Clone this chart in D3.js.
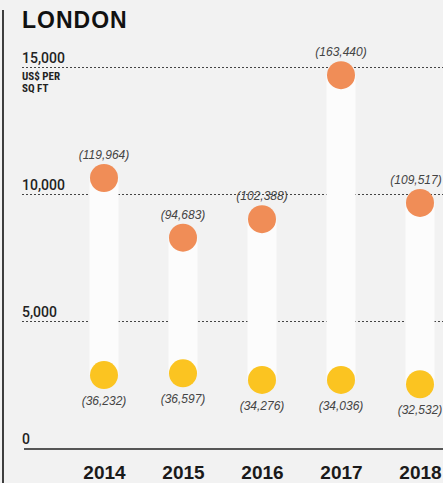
<!DOCTYPE html>
<html>
<head>
<meta charset="utf-8">
<script src="https://cdn.jsdelivr.net/npm/d3@7"></script>
<style>
  body { margin: 0; background: #f2f2f2; }
  svg { display: block; font-family: "Liberation Sans", Arial, sans-serif; }
</style>
</head>
<body>
<script>
const width = 443;
const height = 483;

// data
const years = ['2014', '2015', '2016', '2017', '2018'];
const highPrice = [10630, 8280, 9010, 14680, 9650];
const lowPrice = [2870, 2940, 2680, 2680, 2510];
const highLabels = ['(119,964)', '(94,683)', '(102,388)', '(163,440)', '(109,517)'];
const lowLabels = ['(36,232)', '(36,597)', '(34,276)', '(34,036)', '(32,532)'];
const yTicks = [5000, 10000, 15000];

const data = years.map((yr, i) => ({
    year: yr,
    high: highPrice[i],
    low: lowPrice[i],
    hiLabel: highLabels[i],
    loLabel: lowLabels[i]
}));

const svg = d3.select('body')
    .append('svg')
    .attr('width', width)
    .attr('height', height);

const x = d3.scalePoint()
    .domain(years)
    .range([104, 420]);

const y = d3.scaleLinear()
    .domain([0, 15000])
    .range([448, 67]);

// left rule
svg.append('line')
    .attr('x1', 3).attr('x2', 3)
    .attr('y1', 10).attr('y2', height)
    .attr('stroke', '#111')
    .attr('stroke-width', 1.6);

svg.append('text')
    .attr('x', 22)
    .attr('y', 28)
    .attr('font-size', 23)
    .attr('font-weight', 'bold')
    .attr('letter-spacing', 1)
    .attr('fill', '#111')
    .text('LONDON');

// dashed grid
svg.selectAll('.grid')
    .data(yTicks)
    .enter()
    .append('line')
    .attr('class', 'grid')
    .attr('x1', 22)
    .attr('x2', width)
    .attr('y1', d => Math.round(y(d)) + 0.5)
    .attr('y2', d => Math.round(y(d)) + 0.5)
    .attr('stroke', '#444')
    .attr('stroke-width', 1)
    .attr('stroke-dasharray', '2,2');

svg.selectAll('.tick-label')
    .data(yTicks)
    .enter()
    .append('text')
    .attr('class', 'tick-label')
    .attr('x', 22)
    .attr('y', d => y(d) - 4)
    .attr('font-family', 'Roboto, Arial, sans-serif')
    .attr('font-weight', 500)
    .attr('font-size', 14)
    .attr('fill', '#222')
    .text(d => d3.format(',')(d));

svg.append('text')
    .attr('x', 22)
    .attr('y', 444)
    .attr('font-family', 'Roboto, Arial, sans-serif')
    .attr('font-weight', 500)
    .attr('font-size', 14)
    .attr('fill', '#222')
    .text('0');

const unit = svg.append('text')
    .attr('font-family', '"Liberation Sans Narrow", "Roboto Condensed", Arial, sans-serif')
    .attr('font-size', 11)
    .attr('font-weight', 'bold')
    .attr('fill', '#222');
unit.append('tspan').attr('x', 22).attr('y', 80).text('US$ PER');
unit.append('tspan').attr('x', 22).attr('y', 92).text('SQ FT');

// baseline
svg.append('line')
    .attr('x1', 24).attr('x2', width)
    .attr('y1', 449).attr('y2', 449)
    .attr('stroke', '#222')
    .attr('stroke-width', 1.5);

const barW = 29;

svg.selectAll('.bar')
    .data(data)
    .enter()
    .append('rect')
    .attr('class', 'bar')
    .attr('x', d => x(d.year) - barW / 2)
    .attr('y', d => y(d.high))
    .attr('width', barW)
    .attr('height', d => y(d.low) - y(d.high))
    .attr('fill', '#fcfcfc');

svg.selectAll('.hi')
    .data(data)
    .enter()
    .append('circle')
    .attr('class', 'hi')
    .attr('cx', d => x(d.year))
    .attr('cy', d => y(d.high))
    .attr('r', 14)
    .attr('fill', '#f08d57');

svg.selectAll('.lo')
    .data(data)
    .enter()
    .append('circle')
    .attr('class', 'lo')
    .attr('cx', d => x(d.year))
    .attr('cy', d => y(d.low))
    .attr('r', 14)
    .attr('fill', '#fbc421');

svg.selectAll('.hi-label')
    .data(data)
    .enter()
    .append('text')
    .attr('class', 'hi-label')
    .attr('x', d => Math.min(x(d.year), width - 27))
    .attr('y', d => y(d.high) - 19)
    .attr('text-anchor', 'middle')
    .attr('font-size', 12)
    .attr('font-style', 'italic')
    .attr('fill', '#444')
    .text(d => d.hiLabel);

svg.selectAll('.lo-label')
    .data(data)
    .enter()
    .append('text')
    .attr('class', 'lo-label')
    .attr('x', d => x(d.year))
    .attr('y', d => y(d.low) + 30)
    .attr('text-anchor', 'middle')
    .attr('font-size', 12)
    .attr('font-style', 'italic')
    .attr('fill', '#444')
    .text(d => d.loLabel);

// year labels
const xAxis = svg.append('g')
    .attr('transform', 'translate(0,' + 449 + ')')
    .call(d3.axisBottom(x).tickSize(0).tickPadding(0));
xAxis.select('.domain').remove();
xAxis.selectAll('text')
    .attr('y', 30)
    .attr('dy', 0)
    .attr('font-family', '"Liberation Sans", Arial, sans-serif')
    .attr('font-size', 19)
    .attr('font-weight', 'bold')
    .attr('fill', '#1a1a1a');
</script>
</body>
</html>
